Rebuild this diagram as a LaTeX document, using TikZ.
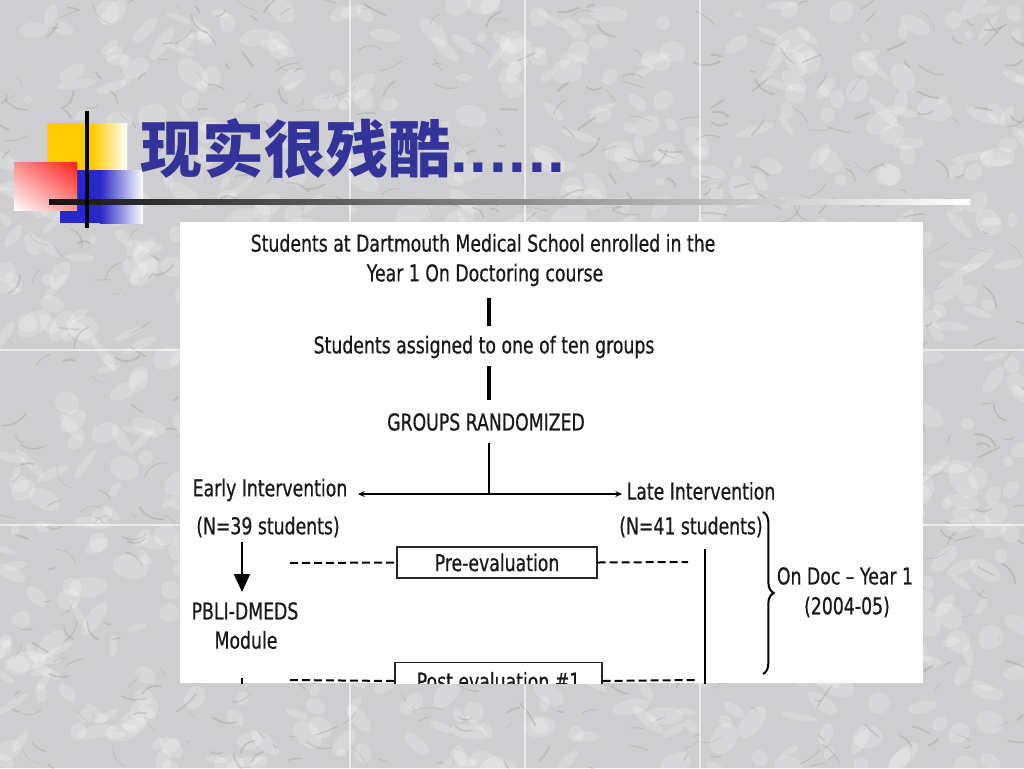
\documentclass[tikz,border=0pt]{standalone}
\usepackage{fontspec}
\usetikzlibrary{arrows.meta,decorations.pathreplacing,shadings}
\newfontfamily\tah[FakeStretch=0.745,FakeBold=0.6]{DejaVu Sans}
\newfontfamily\cjk{Noto Sans CJK SC}
\newfontfamily\dotfont{Liberation Sans}
\definecolor{titleblue}{RGB}{51,51,153}
\definecolor{marblebase}{RGB}{206,206,208}
\definecolor{logoyellow}{RGB}{255,204,0}
\definecolor{logoblue}{RGB}{40,40,200}
\definecolor{logored}{RGB}{255,30,30}
\definecolor{logopink}{RGB}{255,140,140}
\definecolor{logopinkb}{RGB}{255,150,150}
\begin{document}
\begin{tikzpicture}[x=0.75pt,y=-0.75pt,
  flowtext/.style={inner sep=0pt, anchor=center, font=\tah\fontsize{17.4pt}{20pt}\selectfont, text=black!90},
  stem/.style={line width=2.4pt, black},
  thinline/.style={line width=0.9pt, black},
  dashline/.style={line width=1.5pt, black, dash pattern=on 6pt off 3pt},
  evalbox/.style={draw=black!85, line width=1.1pt, fill=white, minimum width=150pt, minimum height=23.25pt, inner sep=0pt, font=\tah\fontsize{17.4pt}{20pt}\selectfont, text=black!90},
  seam/.style={white, opacity=0.6, line width=1.2pt}
]
\useasboundingbox (0,0) rectangle (1024,768);
% marble background
\fill[marblebase] (0,0) rectangle (1024,768);
\pgfmathsetseed{4242}
\foreach \i in {1,...,900}{
  \pgfmathsetmacro{\px}{rnd*1024}
  \pgfmathsetmacro{\py}{rnd*768}
  \pgfmathsetmacro{\rx}{4+rnd*16}
  \pgfmathsetmacro{\ry}{3+rnd*9}
  \pgfmathsetmacro{\rot}{-60+rnd*120}
  \fill[white, opacity=0.2, rotate around={\rot:(\px,\py)}] (\px,\py) ellipse [x radius=\rx, y radius=\ry];
}
\foreach \i in {1,...,650}{
  \pgfmathsetmacro{\px}{rnd*1024}
  \pgfmathsetmacro{\py}{rnd*768}
  \pgfmathsetmacro{\ang}{-60+rnd*120}
  \pgfmathsetmacro{\len}{5+rnd*22}
  \pgfmathsetmacro{\bend}{-40+rnd*80}
  \pgfmathsetmacro{\lw}{0.3+rnd*1.2}
  \draw[black!60, opacity=0.18, line width=\lw pt, line cap=round] (\px,\py) to[bend left=\bend] ++(\ang:\len);
}
\draw[seam] (350,0) -- (350,768);
\draw[seam] (525,0) -- (525,768);
\draw[seam] (700,0) -- (700,768);
\draw[seam] (0,350) -- (1024,350);
\draw[seam] (0,525) -- (1024,525);
% logo
\fill[logoyellow] (47,123) rectangle (92,200);
\shade[left color=logoyellow, right color=white] (92,123) rectangle (127,200);
\fill[logoblue] (60,170) rectangle (100,223);
\shade[left color=logoblue, right color=white] (100,170) rectangle (143,223);
\shade[upper right=logored, upper left=logopink, lower right=logopinkb, lower left=white] (14,162) rectangle (77,210);
\shade[left color=black!92, right color=white] (49,199) rectangle (970,204);
\draw[line width=2.6pt, black] (87,111) -- (87,228);
% title
\node[anchor=base west, inner sep=0pt, text=titleblue] (title) at (140,172)
  {{\cjk\bfseries\fontsize{46.5pt}{50pt}\selectfont 现实很残酷}{\dotfont\bfseries\fontsize{48pt}{50pt}\selectfont .\kern1.3pt.\kern1.3pt.\kern1.3pt.\kern1.3pt.\kern1.3pt.}};
% panel
\fill[white] (180,222) rectangle (923,683);
\begin{scope}
\clip (180,222) rectangle (923,683);
\node[flowtext] (t1) at (483,243) {Students at Dartmouth Medical School enrolled in the};
\node[flowtext] (t2) at (485,275) {Year 1 On Doctoring course};
\node[flowtext] (t3) at (484,347) {Students assigned to one of ten groups};
\node[flowtext] (t4) at (486,422) {GROUPS RANDOMIZED};
\coordinate (s1a) at (489,298); \coordinate (s1b) at (489,326);
\coordinate (s2a) at (489,366); \coordinate (s2b) at (489,400);
\coordinate (s3a) at (489,443); \coordinate (split) at (489,494);
\draw[stem] (s1a) -- (s1b);
\draw[stem] (s2a) -- (s2b);
\draw[thinline] (s3a) -- (split);
\node[flowtext] (early) at (270,490) {Early Intervention};
\node[flowtext] (late) at (701,491) {Late Intervention};
\coordinate (ltip) at (358,494);
\coordinate (rtip) at (622,494);
\draw[thinline, -{Stealth[length=5pt,width=4.5pt]}] (split) -- (ltip);
\draw[thinline, -{Stealth[length=5pt,width=4.5pt]}] (split) -- (rtip);
\node[flowtext] (n39) at (268,527) {(N=39 students)};
\node[flowtext] (n41) at (691,527) {(N=41 students)};
\coordinate (da) at (242,542);
\coordinate (db) at (242,592);
\draw[line width=1.5pt, black, -{Triangle[length=13.5pt,width=12pt]}] (da) -- (db);
\node[flowtext] (pbli) at (245,611) {PBLI-DMEDS};
\node[flowtext] (module) at (246,640) {Module};
\coordinate (ea) at (242,678); \coordinate (eb) at (242,700);
\draw[line width=1.5pt, black] (ea) -- (eb);
\node[evalbox] (pre) at (497,562.5) {Pre-evaluation};
\node[evalbox, minimum width=155pt, minimum height=28pt] (post) at (498.5,681) {Post evaluation \#1};
\coordinate (pl1) at (290,563); \coordinate (pr1) at (688,562);
\coordinate (pl2) at (290,680); \coordinate (pr2) at (695,680);
\draw[dashline] (pl1) -- (pre.west);
\draw[dashline] (pre.east) -- (pr1);
\draw[dashline] (pl2) -- (post.west);
\draw[dashline] (post.east) -- (pr2);
\coordinate (ra) at (705,549); \coordinate (rb) at (705,700);
\draw[line width=1.5pt, black] (ra) -- (rb);
\coordinate (bt) at (763,512); \coordinate (bb) at (763,674);
\draw[line width=1.5pt, black, decorate, decoration={brace, amplitude=8pt}] (bt) -- (bb);
\node[flowtext] (ondoc) at (845,576) {On Doc – Year 1};
\node[flowtext] (yr) at (847,607) {(2004-05)};
\end{scope}
\end{tikzpicture}
\end{document}
